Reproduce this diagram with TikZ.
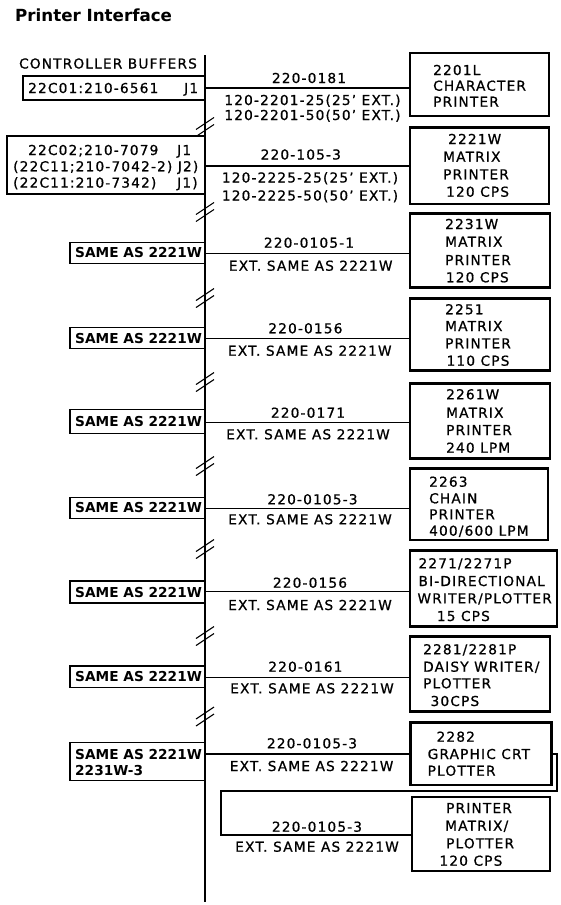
\documentclass[tikz,border=0pt]{standalone}
\usepackage{fontspec}
\newfontfamily\labf[LetterSpace=8.5,FakeBold=0.8]{DejaVu Sans}
\newfontfamily\boldf{DejaVu Sans}
\usetikzlibrary{fit}
\begin{document}
\begin{tikzpicture}[x=1pt,y=-1pt,
  lab/.style={font=\labf\fontsize{13.7}{16}\selectfont, inner sep=0pt},
  blab/.style={font=\boldf\bfseries\fontsize{13.7}{16}\selectfont, inner sep=0pt},
  ttl/.style={font=\boldf\bfseries\fontsize{16.7}{20}\selectfont, inner sep=0pt},
  pbox/.style={draw, line width=2.8pt, inner sep=0pt},
  lbox/.style={draw, line width=1.4pt, inner sep=0pt},
  wire/.style={line width=1.2pt},
  brk/.style={line width=1.1pt},
  brkmark/.pic={\draw[brk] (-9,2.5)--(9,-9.5) (-9,9.5)--(9,-2.5);},
]
\fill[white] (0,0) rectangle (560,905);
\useasboundingbox (0,0) rectangle (560,905);

\node[ttl, anchor=base west] (title) at (15,21) {Printer Interface};
\node[lab, anchor=base] (cb) at (108,68.5) {CONTROLLER BUFFERS};

% bus
\coordinate (bustop) at (205,55);
\coordinate (busbot) at (205,902);
\draw[wire] (bustop) -- (busbot);
\foreach \n/\y in {1/127,2/212,3/298,4/382,5/466,6/549,7/636,8/716.5}{
  \coordinate (k\n) at (205,\y);
  \pic at (k\n) {brkmark};
}

% row 1
\node[lbox, fit={(23,76) (205,100)}] (l1) {};
\node[lab, anchor=base west] (l1a) at (28,93) {22C01:210-6561};
\node[lab, anchor=base west] (l1b) at (184,93) {J1};
\coordinate (j1) at (205,88);
\node[pbox, fit={(410,53) (549,116)}] (p1) {};
\draw[wire] (j1) -- (j1 -| p1.west);
\node[lab, anchor=base] (c1a) at (309,83) {220-0181};
\node[lab, anchor=base] (c1b) at (312.5,105) {120-2201-25(25’ EXT.)};
\node[lab, anchor=base] (c1c) at (312.5,120) {120-2201-50(50’ EXT.)};
\node[lab, anchor=base west] (p1a) at (433,75) {2201L};
\node[lab, anchor=base west] (p1b) at (433,90.7) {CHARACTER};
\node[lab, anchor=base west] (p1c) at (433,106.7) {PRINTER};

% row 2
\node[lbox, fit={(7,136) (205,194)}] (l2) {};
\node[lab, anchor=base west] (l2a) at (28,155) {22C02;210-7079};
\node[lab, anchor=base west] (l2b) at (177,155) {J1};
\node[lab, anchor=base west] (l2c) at (13,171.3) {(22C11;210-7042-2) J2)};
\node[lab, anchor=base west] (l2d) at (13,187.6) {(22C11:210-7342)};
\node[lab, anchor=base west] (l2e) at (177,187.6) {J1)};
\coordinate (j2) at (205,166);
\node[pbox, fit={(410,127.3) (549,204)}] (p2) {};
\draw[wire] (j2) -- (j2 -| p2.west);
\node[lab, anchor=base] (c2a) at (300.8,159.5) {220-105-3};
\node[lab, anchor=base] (c2b) at (310,182.5) {120-2225-25(25’ EXT.)};
\node[lab, anchor=base] (c2c) at (310,200.5) {120-2225-50(50’ EXT.)};
\node[lab, anchor=base west] (p2a) at (448,144) {2221W};
\node[lab, anchor=base west] (p2b) at (443,161.7) {MATRIX};
\node[lab, anchor=base west] (p2c) at (443,179.3) {PRINTER};
\node[lab, anchor=base west] (p2d) at (446,196.7) {120 CPS};

% row 3
\node[lbox, fit={(70,242.3) (205,263.3)}] (l3) {};
\node[blab, anchor=base west] (l3a) at (75,257.8) {SAME AS 2221W};
\coordinate (j3) at (205,253.3);
\node[pbox, fit={(410,213.3) (550,287.3)}] (p3) {};
\draw[wire] (j3) -- (j3 -| p3.west);
\node[lab, anchor=base] (c3a) at (309,247.7) {220-0105-1};
\node[lab, anchor=base] (c3b) at (310.7,270.7) {EXT. SAME AS 2221W};
\node[lab, anchor=base west] (p3a) at (445,229) {2231W};
\node[lab, anchor=base west] (p3b) at (445,246.7) {MATRIX};
\node[lab, anchor=base west] (p3c) at (445,265) {PRINTER};
\node[lab, anchor=base west] (p3d) at (445.7,282.3) {120 CPS};

% row 4
\node[lbox, fit={(70,327.7) (205,348.3)}] (l4) {};
\node[blab, anchor=base west] (l4a) at (75,343) {SAME AS 2221W};
\coordinate (j4) at (205,338.3);
\node[pbox, fit={(410,298.3) (550,370.7)}] (p4) {};
\draw[wire] (j4) -- (j4 -| p4.west);
\node[lab, anchor=base] (c4a) at (305.4,333.3) {220-0156};
\node[lab, anchor=base] (c4b) at (309.8,355.7) {EXT. SAME AS 2221W};
\node[lab, anchor=base west] (p4a) at (445,314.3) {2251};
\node[lab, anchor=base west] (p4b) at (445,331) {MATRIX};
\node[lab, anchor=base west] (p4c) at (445,348.3) {PRINTER};
\node[lab, anchor=base west] (p4d) at (446.4,365.7) {110 CPS};

% row 5
\node[lbox, fit={(70,409.3) (205,433.3)}] (l5) {};
\node[blab, anchor=base west] (l5a) at (75,426.3) {SAME AS 2221W};
\coordinate (j5) at (205,422.7);
\node[pbox, fit={(410,383.3) (550,458.3)}] (p5) {};
\draw[wire] (j5) -- (j5 -| p5.west);
\node[lab, anchor=base] (c5a) at (308,417.7) {220-0171};
\node[lab, anchor=base] (c5b) at (308,439.3) {EXT. SAME AS 2221W};
\node[lab, anchor=base west] (p5a) at (446,399.3) {2261W};
\node[lab, anchor=base west] (p5b) at (446,417.7) {MATRIX};
\node[lab, anchor=base west] (p5c) at (446,435) {PRINTER};
\node[lab, anchor=base west] (p5d) at (446,452.7) {240 LPM};

% row 6
\node[lbox, fit={(70,497.3) (205,518.3)}] (l6) {};
\node[blab, anchor=base west] (l6a) at (75,512.8) {SAME AS 2221W};
\coordinate (j6) at (205,508.3);
\node[pbox, fit={(410,468.3) (548,540)}] (p6) {};
\draw[wire] (j6) -- (j6 -| p6.west);
\node[lab, anchor=base] (c6a) at (312.5,504.3) {220-0105-3};
\node[lab, anchor=base] (c6b) at (310,524.3) {EXT. SAME AS 2221W};
\node[lab, anchor=base west] (p6a) at (429,486.7) {2263};
\node[lab, anchor=base west] (p6b) at (429,503.3) {CHAIN};
\node[lab, anchor=base west] (p6c) at (429,519.3) {PRINTER};
\node[lab, anchor=base west] (p6d) at (429,535.7) {400/600 LPM};

% row 7
\node[lbox, fit={(70,581) (205,603)}] (l7) {};
\node[blab, anchor=base west] (l7a) at (75,597) {SAME AS 2221W};
\coordinate (j7) at (205,591.7);
\node[pbox, fit={(410,550.7) (557,626.7)}] (p7) {};
\draw[wire] (j7) -- (j7 -| p7.west);
\node[lab, anchor=base] (c7a) at (310,587.7) {220-0156};
\node[lab, anchor=base] (c7b) at (310,610) {EXT. SAME AS 2221W};
\node[lab, anchor=base west] (p7a) at (418.3,568.3) {2271/2271P};
\node[lab, anchor=base west] (p7b) at (418.3,586) {BI-DIRECTIONAL};
\node[lab, anchor=base west] (p7c) at (417.3,603.3) {WRITER/PLOTTER};
\node[lab, anchor=base west] (p7d) at (436.7,621) {15 CPS};

% row 8
\node[lbox, fit={(70,666) (205,687.3)}] (l8) {};
\node[blab, anchor=base west] (l8a) at (75,681.7) {SAME AS 2221W};
\coordinate (j8) at (205,677.3);
\node[pbox, fit={(410,636.7) (550,711.7)}] (p8) {};
\draw[wire] (j8) -- (j8 -| p8.west);
\node[lab, anchor=base] (c8a) at (305.4,671.7) {220-0161};
\node[lab, anchor=base] (c8b) at (312,693.3) {EXT. SAME AS 2221W};
\node[lab, anchor=base west] (p8a) at (423,654.3) {2281/2281P};
\node[lab, anchor=base west] (p8b) at (423,671.7) {DAISY WRITER/};
\node[lab, anchor=base west] (p8c) at (423,688.3) {PLOTTER};
\node[lab, anchor=base west] (p8d) at (430.4,706) {30CPS};

% row 9
\node[lbox, fit={(70,742.7) (205,780.7)}] (l9) {};
\node[blab, anchor=base west] (l9a) at (75,759) {SAME AS 2221W};
\node[blab, anchor=base west] (l9b) at (75,775.7) {2231W-3};
\coordinate (j9) at (205,754);
\node[pbox, fit={(410.7,722.7) (551.8,785)}] (p9) {};
\draw[wire] (j9) -- (j9 -| p9.west);
\node[lab, anchor=base] (c9a) at (312,748.3) {220-0105-3};
\node[lab, anchor=base] (c9b) at (311.6,771) {EXT. SAME AS 2221W};
\node[lab, anchor=base west] (p9a) at (436.4,741.7) {2282};
\node[lab, anchor=base west] (p9b) at (427.5,759) {GRAPHIC CRT};
\node[lab, anchor=base west] (p9c) at (427.5,775.7) {PLOTTER};

% row 10
\node[pbox, fit={(412,797) (550,871)}] (p10) {};
\coordinate (r1) at (557,791);
\coordinate (r2) at (221,835);
\draw[wire] (j9 -| p9.east) -| (r1) -| (r2) -- (r2 -| p10.west);
\node[lab, anchor=base] (c10a) at (317,831.7) {220-0105-3};
\node[lab, anchor=base] (c10b) at (317,851.7) {EXT. SAME AS 2221W};
\node[lab, anchor=base west] (p10a) at (446,813) {PRINTER};
\node[lab, anchor=base west] (p10b) at (445,830.7) {MATRIX/};
\node[lab, anchor=base west] (p10c) at (446,848.3) {PLOTTER};
\node[lab, anchor=base west] (p10d) at (439.3,865.7) {120 CPS};
\end{tikzpicture}
\end{document}
